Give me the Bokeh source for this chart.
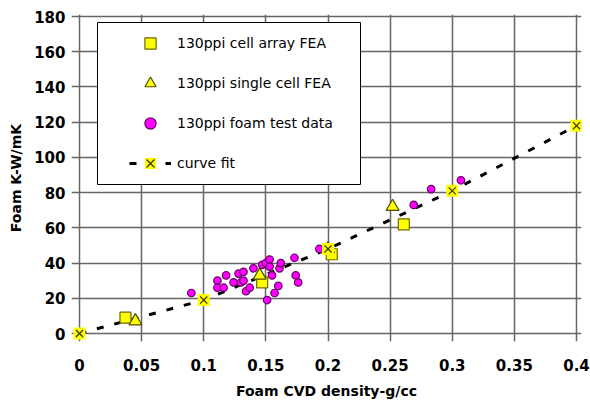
from bokeh.plotting import figure
from bokeh.models import (Range1d, FixedTicker, Legend, LegendItem, BoxAnnotation, Node)
from bokeh.embed import file_html
from bokeh.resources import INLINE

# ---- data ----
fea_array_x = [0.037, 0.147, 0.203, 0.261]
fea_array_y = [9, 29, 45, 62]

fea_single_x = [0.045, 0.145, 0.200, 0.252]
fea_single_y = [7, 33, 48, 72]

foam_x = [0.090, 0.111, 0.111, 0.116, 0.118, 0.124, 0.128, 0.130, 0.132, 0.132,
          0.134, 0.137, 0.140, 0.147, 0.150, 0.153, 0.153, 0.155, 0.151, 0.157,
          0.160, 0.161, 0.162, 0.173, 0.174, 0.176, 0.193, 0.269, 0.283, 0.307]
foam_y = [23, 30, 26, 26, 33, 29, 34, 29, 35, 30,
          24, 26, 37, 39, 40, 42, 38, 33, 19, 23,
          27, 37, 40, 43, 33, 29, 48, 73, 82, 87]

fit_x = [0.0, 0.1, 0.2, 0.3, 0.4]
fit_y = [0, 19, 48, 81, 118]

x_ticks = [0, 0.05, 0.1, 0.15, 0.2, 0.25, 0.3, 0.35, 0.4]
x_tick_labels = ["0", "0.05", "0.1", "0.15", "0.2", "0.25", "0.3", "0.35", "0.4"]
y_ticks = [0, 20, 40, 60, 80, 100, 120, 140, 160, 180]
y_tick_labels = ["0", "20", "40", "60", "80", "100", "120", "140", "160", "180"]

x_title = "Foam CVD density-g/cc"
y_title = "Foam K-W/mK"
series_names = ["130ppi cell array FEA", "130ppi single cell FEA",
                "130ppi foam test data", "curve fit"]

# ---- geometry (0..0.4 spans 497px, 0..180 spans 317px) ----
xpx = 497 / 0.4
ypx = 317 / 180.0
x_range = Range1d(-8 / xpx, 0.4 + 5 / xpx)
y_range = Range1d(-8 / ypx, 180 + 2 / ypx)

p = figure(width=590, height=403, x_range=x_range, y_range=y_range,
           output_backend="svg", toolbar_location=None,
           min_border_left=71, min_border_right=9, min_border_top=14,
           min_border_bottom=62)
p.background_fill_color = "white"
p.border_fill_color = "white"
p.outline_line_color = None

xt = FixedTicker(ticks=x_ticks)
yt = FixedTicker(ticks=y_ticks)
p.xaxis.ticker = xt
p.yaxis.ticker = yt
p.xgrid.ticker = xt
p.ygrid.ticker = yt
p.xaxis.major_label_overrides = {t: l for t, l in zip(x_ticks, x_tick_labels)}
p.yaxis.major_label_overrides = {t: l for t, l in zip(y_ticks, y_tick_labels)}

for g in (p.xgrid, p.ygrid):
    g.grid_line_color = "#666666"
    g.grid_line_width = 1.5
    g.grid_line_alpha = 1.0

for ax in (p.xaxis, p.yaxis):
    ax.axis_line_color = None
    ax.major_tick_line_color = None
    ax.minor_tick_line_color = None
    ax.major_tick_out = 0
    ax.major_tick_in = 0
    ax.major_label_text_font = "DejaVu Sans"
    ax.major_label_text_font_style = "bold"
    ax.major_label_text_font_size = "15px"
    ax.major_label_text_color = "black"
    ax.axis_label_text_font = "DejaVu Sans"
    ax.axis_label_text_font_style = "bold"
    ax.axis_label_text_font_size = "14px"
    ax.axis_label_text_color = "black"

p.xaxis.axis_label = x_title
p.yaxis.axis_label = y_title
p.xaxis.major_label_standoff = 17
p.xaxis.axis_label_standoff = 9
p.yaxis.major_label_standoff = 6
p.yaxis.axis_label_standoff = 7

# ---- legend frame ----
box = BoxAnnotation(left=Node(target="frame", symbol="left", offset=26),
                    right=Node(target="frame", symbol="left", offset=289),
                    top=Node(target="frame", symbol="top", offset=8),
                    bottom=Node(target="frame", symbol="top", offset=170),
                    fill_color="white", fill_alpha=1.0,
                    line_color="black", line_width=1, line_alpha=1.0)
p.add_layout(box)

# ---- glyphs ----
fit_line = p.line(fit_x, fit_y, line_color="black", line_width=3, line_dash="7 11")
foam_r = p.scatter(foam_x, foam_y, marker="circle", size=7.5, fill_color="#ff00ff",
                   line_color="#660066", line_width=1.2)
arr_r = p.scatter(fea_array_x, fea_array_y, marker="square", size=11,
                  fill_color="#ffff00", line_color="#6b6b00", line_width=1.2)
sgl_r = p.scatter(fea_single_x, fea_single_y, marker="triangle", size=13,
                  fill_color="#ffff00", line_color="#4d4d00", line_width=1.2)
fit_bg = p.scatter(fit_x, fit_y, marker="square", size=12, fill_color="#ffff00",
                   line_color=None)
fit_x_r = p.scatter(fit_x, fit_y, marker="x", size=10, line_color="#333300",
                    line_width=1.2)

legend = Legend(items=[
    LegendItem(label=series_names[0], renderers=[arr_r]),
    LegendItem(label=series_names[1], renderers=[sgl_r]),
    LegendItem(label=series_names[2], renderers=[foam_r]),
    LegendItem(label=series_names[3], renderers=[fit_line, fit_bg, fit_x_r]),
], location=(58, 164))
legend.border_line_color = None
legend.background_fill_alpha = 0.0
legend.padding = 7
legend.spacing = 12
legend.glyph_height = 28
legend.glyph_width = 42
legend.label_height = 20
legend.label_standoff = 6
legend.label_text_font = "DejaVu Sans"
legend.label_text_font_size = "14px"
legend.label_text_color = "black"
p.add_layout(legend)

open("out.html", "w").write(file_html(p, INLINE))
